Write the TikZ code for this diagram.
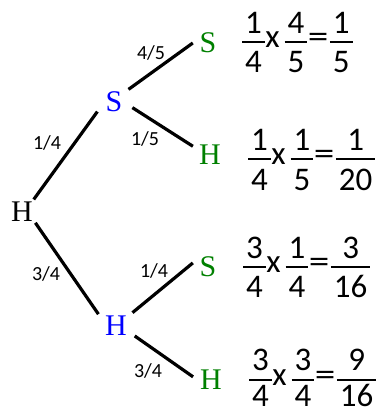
\documentclass[tikz,border=0pt]{standalone}
\usepackage{fontspec}
\setmainfont{Liberation Serif}
\newfontfamily\eqfont{Carlito}
\definecolor{tblue}{RGB}{0,0,255}
\definecolor{tgreen}{RGB}{0,128,0}
% \fr[gap below rule]{num}{den}
\newlength\frgap
\newcommand\fr[3][30pt]{\setlength\frgap{#1}\raisebox{\dimexpr4.7pt-\frgap\relax}{\renewcommand\arraystretch{0}\setlength\arrayrulewidth{1.6pt}\begin{tabular}[b]{@{\hspace{3pt}}c@{\hspace{3pt}}}\rule[-8pt]{0pt}{30pt}#2\\\hline\rule{0pt}{\frgap}#3\end{tabular}}}
\newcommand\eqx{\hspace{0.5pt}x\hspace{5pt}}
\newcommand\eqeq{\hspace{0.5pt}\scalebox{1.25}[1]{=}\hspace{1.5pt}}
\begin{document}
\begin{tikzpicture}[x=1pt,y=-1pt,
  lt/.style={font=\fontsize{30}{34}\selectfont, shape=circle, inner sep=0pt},
  edge/.style={line width=3.2pt},
  lab/.style={font=\eqfont\fontsize{20}{24}\selectfont, inner sep=0pt},
  eq/.style={font=\eqfont\fontsize{33}{40}\selectfont, inner sep=0pt, anchor=base west}]
\useasboundingbox (0,0) rectangle (386,412);
% tree nodes
\node[lt, minimum size=34pt] (r) at (22,212) {H};
\node[lt, minimum size=38pt, text=tblue] (s) at (114,102) {S};
\node[lt, minimum size=42pt, text=tblue] (h) at (116,326) {H};
\node[lt, minimum size=30pt, text=tgreen] (ss) at (208,43) {S};
\node[lt, minimum size=38pt, text=tgreen] (sh) at (210,155) {H};
\node[lt, minimum size=31pt, text=tgreen] (hs) at (208,267) {S};
\node[lt, minimum size=36pt, text=tgreen] (hh) at (211,380) {H};
% edges
\draw[edge] (r.47) -- (s.210);
\draw[edge] (r.-39) -- (h.146);
\draw[edge] (s.41) -- (ss.180);
\draw[edge] (s.-17) -- (sh.153);
\draw[edge] (h.39) -- (hs.165);
\draw[edge] (h.-28) -- (hh.170);
% edge labels
\node[lab] (l1) at (47,143) {1/4};
\node[lab] (l2) at (46,274) {3/4};
\node[lab] (l3) at (151,53) {4/5};
\node[lab] (l4) at (145,139) {1/5};
\node[lab] (l5) at (154,271) {1/4};
\node[lab] (l6) at (148,371) {3/4};
% products
\node[eq] (e1) at (242,47.7) {\fr{1}{4}\eqx\fr{4}{5}\eqeq\fr{1}{5}};
\node[eq] (e2) at (248,164.7) {\fr{1}{4}\eqx\fr{1}{5}\eqeq\fr{1}{20}};
\node[eq] (e3) at (243,272.7) {\fr[29pt]{3}{4}\eqx\fr[29pt]{1}{4}\eqeq\fr[29pt]{3}{16}};
\node[eq] (e4) at (249,385.2) {\fr[26pt]{3}{4}\eqx\fr[26pt]{3}{4}\eqeq\fr[26pt]{9}{16}};
\end{tikzpicture}
\end{document}
